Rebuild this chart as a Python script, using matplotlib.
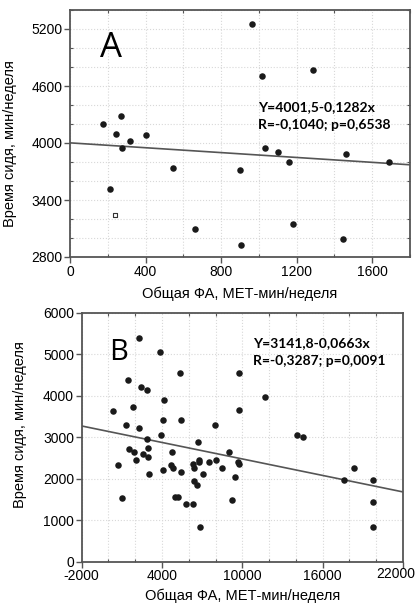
import matplotlib
matplotlib.use("Agg")
import matplotlib.pyplot as plt
from matplotlib.ticker import MultipleLocator, FuncFormatter
import numpy as np

# ---- Panel A data ----
a_x = [963, 1019, 1285, 268, 177, 241, 401, 319, 277, 543, 211, 661, 902, 906,
       1034, 1099, 1160, 1181, 1463, 1445, 1691]
a_y = [5250, 4709, 4769, 4286, 4201, 4092, 4085, 4025, 3944, 3732, 3513, 3100, 3721, 2927,
       3944, 3905, 3799, 3146, 3884, 2994, 3799]
a_hollow_x = [236]
a_hollow_y = [3238]
a_intercept, a_slope = 4001.5, -0.1282
a_text = ["Y=4001,5-0,1282x", "R=-0,1040; p=0,6538"]

# ---- Panel B data ----
b_x = [2304, 3821, 5339, 9718, 1458, 2429, 2876, 4170, 11684, 361, 1832, 9728, 1309, 2258,
       4097, 5395, 7935, 3901, 2855, 6665, 9003, 14072, 14545, 1556, 1907, 2930, 2579, 2930,
       4768, 2056, 734, 3050, 4096, 4648, 4798, 5395, 6337, 6389, 6740, 6762, 7061, 7509,
       8010, 8480, 9698, 9750, 9452, 6389, 6613, 988, 4970, 5216, 5791, 6337, 9205, 6837,
       17606, 18328, 19770, 19770, 19770]
b_y = [5390, 5052, 4555, 4555, 4386, 4209, 4145, 3895, 3968, 3640, 3730, 3655, 3295, 3230,
       3420, 3420, 3295, 3060, 2950, 2880, 2640, 3060, 3005, 2712, 2640, 2751, 2591, 2519,
       2640, 2454, 2341, 2109, 2213, 2341, 2268, 2164, 2350, 2268, 2454, 2406, 2109, 2406,
       2454, 2268, 2406, 2350, 2037, 1940, 1858, 1544, 1554, 1554, 1385, 1385, 1496, 845,
       1967, 2272, 1967, 1429, 843]
b_intercept, b_slope = 3141.8, -0.0663
b_text = ["Y=3141,8-0,0663x", "R=-0,3287; p=0,0091"]

xlabel = "Общая ФА, МЕТ-мин/неделя"
ylabel = "Время сидя, мин/неделя"

plt.rcParams['font.family'] = ['Liberation Sans', 'DejaVu Sans']
plt.rcParams['axes.unicode_minus'] = False

fig = plt.figure(figsize=(4.18, 6.07), dpi=100)
W, H = 418, 607

def px_axes(l, t, r, b):
    return fig.add_axes([l / W, 1 - b / H, (r - l) / W, (b - t) / H])

axA = px_axes(70, 10, 410, 257)
axB = px_axes(81.7, 313, 403, 561.7)

def style(ax, xmaj, xoff, xmin, ymaj, yoff, ymin):
    ax.xaxis.set_major_locator(MultipleLocator(xmaj, offset=xoff))
    ax.xaxis.set_minor_locator(MultipleLocator(xmin))
    ax.yaxis.set_major_locator(MultipleLocator(ymaj, offset=yoff))
    ax.yaxis.set_minor_locator(MultipleLocator(ymin))
    ax.grid(True, which='both', color='#d8d8d8', linestyle=':', linewidth=0.8)
    ax.set_axisbelow(True)
    for s in ax.spines.values():
        s.set_color('#555555')
        s.set_linewidth(1.3)
    ax.tick_params(which='major', direction='out', length=4, width=1, color='#555555',
                   labelsize=10, pad=1.5)
    ax.tick_params(which='minor', direction='in', length=2.5, width=0.8, color='#555555',
                   top=True, right=True)
    ax.tick_params(which='major', top=False, right=False)

EQ_FS = 10

# Panel A
axA.set_xlim(0, 1800)
axA.set_ylim(2800, 5400)
style(axA, 400, 0, 200, 600, 400, 200)
axA.scatter(a_x, a_y, s=22, color='#1a1a1a', zorder=3, linewidths=0)
axA.scatter(a_hollow_x, a_hollow_y, s=12, marker='s', facecolors='white',
            edgecolors='#333333', linewidths=0.8, zorder=3)
xl = np.array(axA.get_xlim())
axA.plot(xl, a_intercept + a_slope * xl, color='#555555', lw=1.2, zorder=2)
axA.text((100 - 70) / 340, 1 - (57 - 10) / 247, "A", transform=axA.transAxes, fontsize=25,
         family='Open Sans', va='baseline', ha='left')
axA.text((258 - 70) / 340, 1 - (111 - 10) / 247, a_text[0], transform=axA.transAxes,
         fontsize=EQ_FS, family='Lato', fontweight='bold', va='baseline')
axA.text((258 - 70) / 340, 1 - (129 - 10) / 247, a_text[1], transform=axA.transAxes,
         fontsize=EQ_FS, family='Lato', fontweight='bold', va='baseline')
axA.set_xlabel(xlabel, fontsize=10.5, labelpad=6)
axA.set_ylabel(ylabel, fontsize=10.5, labelpad=6)
axA.yaxis.set_label_coords(-0.155, 0.46)

# Panel B
xmaxB = 22000
axB.set_xlim(-2000, xmaxB)
axB.set_ylim(0, 6000)
style(axB, 6000, 4000, 2000, 1000, 0, 1000)
axB.xaxis.set_major_formatter(FuncFormatter(
    lambda v, p: "" if abs(v - xmaxB) < 1 else f"{v:.0f}"))
axB.scatter(b_x, b_y, s=22, color='#1a1a1a', zorder=3, linewidths=0)
xl = np.array(axB.get_xlim())
axB.plot(xl, b_intercept + b_slope * xl, color='#555555', lw=1.2, zorder=2)
axB.text((109 - 81.7) / 321.3, 1 - (360 - 313) / 248.7, "B", transform=axB.transAxes,
         fontsize=21, family='Open Sans', va='baseline', ha='left')
axB.text((253 - 81.7) / 321.3, 1 - (347 - 313) / 248.7, b_text[0], transform=axB.transAxes,
         fontsize=EQ_FS, family='Lato', fontweight='bold', va='baseline')
axB.text((253 - 81.7) / 321.3, 1 - (365 - 313) / 248.7, b_text[1], transform=axB.transAxes,
         fontsize=EQ_FS, family='Lato', fontweight='bold', va='baseline')
axB.set_xlabel(xlabel, fontsize=10.5, labelpad=4)
axB.set_ylabel(ylabel, fontsize=10.5, labelpad=6)
axB.yaxis.set_label_coords(-0.17, 0.55)
# last x tick label placed so it stays inside the figure, as in the reference
fig.text(415 / W, 1 - 567.2 / H, f"{xmaxB}", ha='right', va='top', fontsize=10)

fig.savefig("out.png", dpi=100)
